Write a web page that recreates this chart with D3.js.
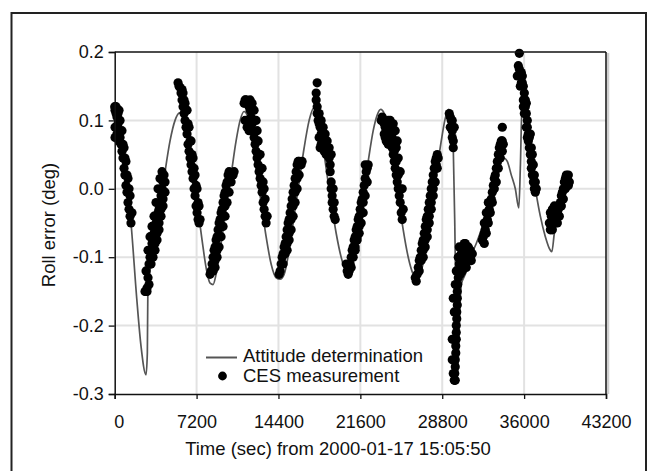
<!DOCTYPE html>
<html><head><meta charset="utf-8">
<script src="https://cdn.jsdelivr.net/npm/d3@7"></script>
<style>html,body{margin:0;padding:0;background:#fff;} text{font-family:"Liberation Sans",Arial,sans-serif;}</style>
</head><body><svg id="c" width="652" height="471"></svg>
<script>
const xTicks = [0, 7200, 14400, 21600, 28800, 36000, 43200];
const yTicks = [-0.3, -0.2, -0.1, 0.0, 0.1, 0.2];
const xTitle = "Time (sec) from 2000-01-17 15:05:50";
const yTitle = "Roll error (deg)";
const seriesNames = ["Attitude determination", "CES measurement"];

// Attitude determination [time s, roll deg]
const attitude = [[0,0.10],[466,0.065],[994,0.02],[1434,-0.05],[1936,-0.16],[2314,-0.23],[2754,-0.272],[2870,-0.24],[2912,-0.157],[3106,-0.12],[3546,-0.07],[3986,-0.025],[4426,0.025],[4866,0.07],[5306,0.1],[5702,0.111],[6010,0.106],[6362,0.08],[6802,0.035],[7242,-0.02],[7682,-0.075],[8034,-0.115],[8386,-0.138],[8650,-0.14],[8914,-0.125],[9354,-0.08],[9794,-0.03],[10234,0.02],[10674,0.07],[11026,0.1],[11378,0.113],[11642,0.108],[11994,0.08],[12434,0.03],[12874,-0.02],[13314,-0.07],[13754,-0.11],[14194,-0.13],[14546,-0.132],[14898,-0.125],[15338,-0.09],[15778,-0.04],[16218,0.01],[16658,0.06],[17098,0.1],[17494,0.118],[17802,0.11],[18154,0.08],[18594,0.03],[19034,-0.02],[19474,-0.065],[19914,-0.1],[20354,-0.12],[20618,-0.118],[20970,-0.1],[21410,-0.06],[21850,-0.01],[22290,0.04],[22730,0.085],[23082,0.108],[23390,0.116],[23698,0.11],[24050,0.085],[24490,0.04],[24930,-0.01],[25370,-0.06],[25810,-0.1],[26250,-0.125],[26602,-0.132],[26954,-0.12],[27394,-0.085],[27834,-0.035],[28274,0.02],[28714,0.07],[29066,0.103],[29374,0.116],[29594,0.105],[29770,0.06],[29902,-0.05],[30034,-0.2],[30166,-0.27],[30298,-0.2],[30474,-0.14],[30826,-0.125],[31266,-0.1],[31794,-0.08],[32322,-0.055],[32850,-0.025],[33378,0.005],[33818,0.03],[34214,0.045],[34522,0.04],[34874,0.02],[35226,0.0],[35534,-0.028],[35666,0.03],[35798,0.11],[35842,0.113],[36194,0.08],[36546,0.045],[36986,0.0],[37426,-0.04],[37866,-0.07],[38306,-0.09],[38438,-0.092],[38658,-0.065],[39010,-0.04],[39362,-0.02],[39714,0.0]];

// CES measurement segments [time s, roll deg]
const cesA = [[0,0.12],[30,0.115],[30,0.09],[30,0.075],[120,0.11],[120,0.12],[200,0.105],[200,0.08],[290,0.095],[290,0.11],[380,0.085],[380,0.07],[380,0.115],[470,0.075],[470,0.1],[550,0.065],[640,0.055],[640,0.085],[730,0.045],[730,0.065],[820,0.03],[820,0.06],[900,0.02],[900,0.045],[990,0.005],[990,0.04],[1080,-0.005],[1080,0.02],[1170,-0.02],[1170,0.015],[1260,-0.03],[1260,0.0],[1350,-0.04],[1350,-0.01],[1430,-0.05],[1520,-0.035]];
const cesB = [[2666,-0.15],[2754,-0.15],[2754,-0.12],[2842,-0.145],[2842,-0.15],[2930,-0.13],[2930,-0.09],[3018,-0.11],[3018,-0.14],[3106,-0.1],[3106,-0.07],[3194,-0.09],[3194,-0.11],[3282,-0.08],[3282,-0.055],[3370,-0.075],[3370,-0.1],[3458,-0.065],[3458,-0.04],[3546,-0.06],[3546,-0.08],[3546,-0.09],[3634,-0.05],[3634,-0.02],[3722,-0.045],[3722,-0.065],[3722,-0.075],[3810,-0.035],[3810,0.0],[3898,-0.03],[3898,-0.05],[3898,-0.06],[3986,-0.02],[3986,0.015],[4074,-0.01],[4074,-0.03],[4074,-0.04],[4162,0.0],[4162,0.025],[4250,0.01],[4250,-0.015],[4250,-0.025],[4338,0.02],[4426,0.01],[4426,-0.005]];
const cesC = [[5570,0.155],[5658,0.15],[5746,0.148],[5834,0.14],[5922,0.13],[5922,0.145],[6010,0.12],[6010,0.14],[6098,0.11],[6098,0.13],[6186,0.10],[6186,0.125],[6274,0.09],[6274,0.115],[6362,0.08],[6362,0.115],[6450,0.065],[6450,0.095],[6538,0.055],[6538,0.09],[6626,0.045],[6626,0.07],[6714,0.035],[6714,0.07],[6802,0.025],[6802,0.05],[6890,0.015],[6890,0.045],[6978,0.0],[6978,0.03],[7066,-0.01],[7066,0.02],[7154,-0.025],[7154,0.005],[7242,-0.035],[7242,0.0],[7330,-0.045],[7330,-0.02],[7418,-0.05],[7418,-0.025],[7506,-0.045]];
const cesD = [[8386,-0.125],[8474,-0.12],[8562,-0.11],[8650,-0.1],[8650,-0.12],[8738,-0.09],[8826,-0.085],[8826,-0.105],[8826,-0.115],[8914,-0.075],[9002,-0.07],[9002,-0.09],[9002,-0.1],[9090,-0.06],[9178,-0.05],[9178,-0.07],[9178,-0.085],[9266,-0.045],[9354,-0.035],[9354,-0.055],[9354,-0.07],[9442,-0.03],[9530,-0.02],[9530,-0.04],[9530,-0.055],[9618,-0.01],[9706,-0.005],[9706,-0.025],[9706,-0.04],[9794,0.005],[9882,0.01],[9882,-0.02],[9970,0.02],[10058,0.025],[10058,-0.005],[10146,0.02],[10234,0.01],[10410,0.02],[10498,0.025]];
const cesE = [[11378,0.125],[11466,0.13],[11466,0.1],[11554,0.13],[11642,0.128],[11642,0.09],[11730,0.125],[11818,0.12],[11818,0.085],[11906,0.115],[11906,0.13],[11994,0.105],[12082,0.095],[12082,0.125],[12170,0.085],[12258,0.075],[12258,0.115],[12346,0.065],[12434,0.055],[12434,0.1],[12522,0.045],[12522,0.085],[12610,0.035],[12610,0.07],[12698,0.025],[12698,0.05],[12786,0.015],[12786,0.05],[12874,0.005],[12874,0.03],[12962,-0.005],[12962,0.03],[13050,-0.02],[13050,0.01],[13138,-0.03],[13138,0.0],[13226,-0.04],[13226,-0.015],[13314,-0.05],[13402,-0.04]];
const cesF = [[14458,-0.125],[14546,-0.12],[14634,-0.11],[14722,-0.1],[14810,-0.095],[14810,-0.11],[14898,-0.085],[14986,-0.08],[14986,-0.095],[15074,-0.07],[15162,-0.06],[15162,-0.08],[15162,-0.09],[15250,-0.05],[15338,-0.045],[15338,-0.065],[15338,-0.075],[15426,-0.035],[15514,-0.025],[15514,-0.045],[15514,-0.06],[15602,-0.015],[15690,-0.005],[15690,-0.025],[15690,-0.04],[15778,0.005],[15866,0.015],[15866,-0.005],[15866,-0.02],[15954,0.025],[16042,0.035],[16042,0.015],[16042,0.0],[16130,0.04],[16218,0.04],[16218,0.02],[16394,0.035],[16482,0.04]];
const cesG = [[17802,0.155],[17714,0.14],[17714,0.13],[17802,0.12],[17802,0.11],[17890,0.1],[17978,0.095],[17978,0.075],[17978,0.11],[18066,0.09],[18066,0.06],[18154,0.08],[18154,0.065],[18154,0.1],[18242,0.085],[18242,0.06],[18330,0.075],[18330,0.09],[18418,0.07],[18418,0.055],[18506,0.065],[18506,0.08],[18594,0.06],[18594,0.05],[18682,0.055],[18682,0.07],[18770,0.05],[18858,0.045],[18858,0.06],[18946,0.035],[18946,0.025],[19034,0.01],[19034,0.0],[19034,0.05],[19122,-0.01],[19122,-0.02],[19210,-0.03],[19210,0.0],[19298,-0.04],[19298,-0.02],[19386,-0.045]];
const cesH = [[20354,-0.11],[20442,-0.12],[20530,-0.125],[20618,-0.12],[20706,-0.11],[20794,-0.1],[20794,-0.115],[20882,-0.09],[20970,-0.085],[20970,-0.1],[21058,-0.075],[21146,-0.07],[21146,-0.085],[21146,-0.09],[21234,-0.06],[21322,-0.055],[21322,-0.07],[21322,-0.075],[21410,-0.045],[21498,-0.04],[21498,-0.055],[21498,-0.065],[21586,-0.03],[21674,-0.02],[21674,-0.035],[21674,-0.05],[21762,-0.015],[21850,-0.005],[21850,-0.02],[21850,-0.035],[21938,0.005],[22026,0.015],[22026,0.035],[22026,-0.01],[22114,0.025],[22202,0.03],[22202,0.01],[22290,0.035]];
const cesI = [[23434,0.1],[23522,0.105],[23610,0.1],[23698,0.095],[23698,0.08],[23786,0.09],[23786,0.075],[23874,0.085],[23874,0.07],[23962,0.09],[24050,0.08],[24050,0.065],[24050,0.1],[24138,0.075],[24226,0.07],[24226,0.085],[24226,0.1],[24314,0.065],[24402,0.06],[24402,0.075],[24490,0.05],[24490,0.095],[24578,0.04],[24578,0.055],[24666,0.03],[24666,0.085],[24754,0.02],[24754,0.04],[24754,0.06],[24842,0.01],[24842,0.07],[24930,0.0],[24930,0.02],[24930,0.045],[25018,-0.01],[25106,-0.02],[25106,0.0],[25106,0.025],[25194,-0.035],[25282,-0.045],[25282,0.0],[25370,-0.03]];
const cesJ = [[26426,-0.13],[26514,-0.135],[26602,-0.125],[26690,-0.115],[26778,-0.105],[26778,-0.12],[26866,-0.1],[26954,-0.09],[26954,-0.105],[27042,-0.08],[27130,-0.075],[27130,-0.09],[27130,-0.1],[27218,-0.065],[27306,-0.055],[27306,-0.075],[27306,-0.085],[27394,-0.045],[27482,-0.04],[27482,-0.06],[27482,-0.07],[27570,-0.03],[27658,-0.02],[27658,-0.04],[27658,-0.05],[27746,-0.01],[27834,0.0],[27834,-0.02],[27834,-0.03],[27922,0.01],[28010,0.02],[28010,0.0],[28010,-0.01],[28098,0.03],[28186,0.04],[28186,0.01],[28274,0.045],[28274,0.035],[28362,0.05],[28362,0.03],[28450,0.045]];
const cesK = [[29418,0.11],[29506,0.105],[29506,0.09],[29594,0.1],[29594,0.09],[29682,0.085],[29682,0.075],[29682,0.1],[29770,0.07],[29770,0.06],[29858,0.09],[29682,-0.22],[29682,-0.25],[29770,-0.27],[29770,-0.16],[29858,-0.18],[29858,-0.28],[29902,-0.27],[29946,-0.26],[29946,-0.25],[29946,-0.28],[29946,-0.14],[29990,-0.24],[29990,-0.23],[30034,-0.22],[30034,-0.21],[30034,-0.2],[30034,-0.12],[30078,-0.19],[30078,-0.18],[30122,-0.17],[30122,-0.16],[30122,-0.15],[30166,-0.14],[30210,-0.13],[30210,-0.12],[30210,-0.1],[30298,-0.11],[30298,-0.085],[30386,-0.1],[30386,-0.11],[30386,-0.125],[30474,-0.095],[30562,-0.09],[30562,-0.105],[30562,-0.12],[30650,-0.085],[30738,-0.08],[30738,-0.1],[30738,-0.115],[30826,-0.08],[30914,-0.085],[30914,-0.1],[30914,-0.115],[31002,-0.09],[31090,-0.095],[31090,-0.105],[31090,-0.085],[31178,-0.1],[31266,-0.1],[31266,-0.09],[31354,-0.105],[31442,-0.095]];
const cesL = [[32322,-0.075],[32410,-0.07],[32498,-0.065],[32498,-0.08],[32498,-0.05],[32586,-0.06],[32674,-0.05],[32674,-0.065],[32674,-0.035],[32762,-0.045],[32850,-0.035],[32850,-0.05],[32850,-0.02],[32938,-0.03],[33026,-0.02],[33026,-0.035],[33114,-0.015],[33202,-0.005],[33202,-0.02],[33290,0.005],[33378,0.015],[33378,0.0],[33466,0.02],[33554,0.03],[33554,0.01],[33642,0.04],[33730,0.05],[33730,0.03],[33818,0.06],[33906,0.065],[33906,0.045],[33994,0.07],[34082,0.07],[34082,0.055],[34082,0.09],[34170,0.065]];
const cesM = [[35578,0.198],[35402,0.165],[35490,0.18],[35578,0.175],[35666,0.17],[35666,0.15],[35754,0.17],[35754,0.155],[35842,0.165],[35842,0.155],[35930,0.15],[35930,0.13],[35930,0.12],[36018,0.14],[36018,0.11],[36106,0.13],[36106,0.12],[36194,0.11],[36194,0.125],[36194,0.09],[36282,0.1],[36282,0.09],[36282,0.075],[36370,0.08],[36370,0.07],[36458,0.06],[36458,0.075],[36546,0.05],[36546,0.08],[36634,0.04],[36634,0.03],[36634,0.06],[36722,0.02],[36722,0.05],[36810,0.01],[36810,0.035],[36898,0.0],[36898,0.02],[36986,-0.005],[36986,0.01],[37074,0.0]];
const cesN = [[38218,-0.05],[38306,-0.06],[38306,-0.035],[38394,-0.055],[38394,-0.04],[38482,-0.06],[38482,-0.03],[38570,-0.05],[38570,-0.035],[38658,-0.045],[38658,-0.025],[38746,-0.05],[38746,-0.03],[38834,-0.04],[38922,-0.035],[38922,-0.05],[39010,-0.03],[39098,-0.025],[39098,-0.04],[39186,-0.02],[39274,-0.01],[39274,-0.025],[39362,-0.005],[39450,0.0],[39450,-0.015],[39538,0.01],[39626,0.015],[39626,0.0],[39714,0.02],[39802,0.015],[39802,0.005],[39890,0.005],[39890,0.02],[39978,0.01]];
const ces = [].concat(cesA, cesB, cesC, cesD, cesE, cesF, cesG, cesH, cesI, cesJ, cesK, cesL, cesM, cesN);

const svg = d3.select("#c");
const L = 114.7, R = 606, T = 52, B = 394;
const x = d3.scaleLinear().domain([0, 43200]).range([L, R]);
const y = d3.scaleLinear().domain([-0.3, 0.2]).range([B, T]);

svg.append("rect").attr("width", 652).attr("height", 471).attr("fill", "#fff");
svg.append("rect").attr("x", 11.5).attr("y", 13).attr("width", 634.5).attr("height", 470)
  .attr("fill", "none").attr("stroke", "#222").attr("stroke-width", 2);

const g = svg.append("g");
g.selectAll("line.gx").data(xTicks.slice(1, -1)).join("line")
  .attr("x1", d => x(d)).attr("x2", d => x(d)).attr("y1", T).attr("y2", B)
  .attr("stroke", "#e2e2e2").attr("stroke-width", 2);
g.selectAll("line.gy").data(yTicks.slice(1, -1)).join("line")
  .attr("y1", d => y(d)).attr("y2", d => y(d)).attr("x1", L).attr("x2", R)
  .attr("stroke", "#e2e2e2").attr("stroke-width", 2);

svg.append("line").attr("x1", R + 2).attr("x2", R + 2).attr("y1", T + 1).attr("y2", B)
  .attr("stroke", "#cfcfcf").attr("stroke-width", 2.5);

svg.append("path").datum(attitude)
  .attr("d", d3.line().x(d => x(d[0])).y(d => y(d[1])).curve(d3.curveMonotoneX))
  .attr("fill", "none").attr("stroke", "#555").attr("stroke-width", 1.7);

svg.append("g").selectAll("circle").data(ces).join("circle")
  .attr("cx", d => x(d[0])).attr("cy", d => y(d[1])).attr("r", 4.6).attr("fill", "#000");

svg.append("line").attr("x1", L).attr("x2", R).attr("y1", T).attr("y2", T).attr("stroke", "#111").attr("stroke-width", 1.5);
svg.append("line").attr("x1", R).attr("x2", R).attr("y1", T).attr("y2", B).attr("stroke", "#111").attr("stroke-width", 1.5);

const fmtY = d => d.toFixed(1);
const yAxis = svg.append("g").attr("transform", `translate(${L},0)`)
  .call(d3.axisLeft(y).tickValues(yTicks).tickFormat(fmtY).tickSize(6).tickPadding(5));
const xAxis = svg.append("g").attr("transform", `translate(0,${B})`)
  .call(d3.axisBottom(x).tickValues(xTicks).tickFormat(d => String(d)).tickSize(5).tickPadding(16));
[yAxis, xAxis].forEach(a => {
  a.select(".domain").attr("stroke", "#111").attr("stroke-width", 1.5);
  a.selectAll(".tick line").attr("stroke", "#111").attr("stroke-width", 1.3);
  a.selectAll("text").attr("font-size", 18).attr("fill", "#111")
    .attr("font-family", '"Liberation Sans", Arial, sans-serif');
});
xAxis.selectAll(".tick text").filter(d => d === 0).attr("dx", 4);

svg.append("text").attr("x", 338).attr("y", 455).attr("text-anchor", "middle")
  .attr("font-size", 18.5).attr("fill", "#111").text(xTitle);
svg.append("text").attr("transform", "translate(55,225) rotate(-90)").attr("text-anchor", "middle")
  .attr("font-size", 18.5).attr("fill", "#111").text(yTitle);

svg.append("line").attr("x1", 206).attr("x2", 237).attr("y1", 357.5).attr("y2", 357.5)
  .attr("stroke", "#555").attr("stroke-width", 2);
svg.append("text").attr("x", 243).attr("y", 362).attr("font-size", 18.5).attr("fill", "#111").text(seriesNames[0]);
svg.append("circle").attr("cx", 222.5).attr("cy", 376).attr("r", 4.4).attr("fill", "#000");
svg.append("text").attr("x", 243).attr("y", 381.5).attr("font-size", 18.5).attr("fill", "#111").text(seriesNames[1]);
</script></body></html>
